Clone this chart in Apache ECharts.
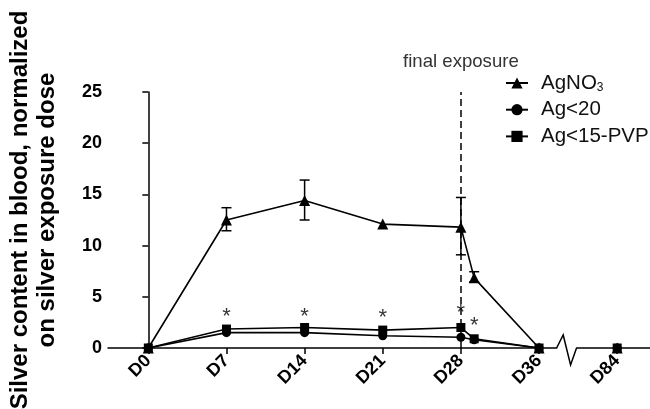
<!DOCTYPE html>
<html><head><meta charset="utf-8">
<script src="https://cdn.jsdelivr.net/npm/echarts@6/dist/echarts.min.js"></script>
<style>html,body{margin:0;padding:0;background:#fff}#c{width:650px;height:409px}</style>
</head><body><div id="c"></div>
<script>
// ---- data ----
const tickLabels = ['D0','D7','D14','D21','D28','D36','D84'];
const tickPos = [0,1,2,3,4,5,6];
const xPos = [0,1,2,3,4,4.17,5];          // sampling points (4.17 = shortly after D28)
const seriesNames = ['AgNO3','Ag<20','Ag<15-PVP'];
const agno3 = [0,12.5,14.4,12.1,11.8,6.85,0];
const agno3Low = [null,11.45,12.5,null,9.1,6.45,null];
const agno3High = [null,13.7,16.4,null,14.7,7.45,null];
const ag20 = [0,1.5,1.5,1.2,1.05,0.8,0];
const agPVP = [0,1.85,2.0,1.75,2.0,0.9,0];
const d84X = 6, d84Y = 0;
const starX = [1,2,3,4,4.17];
const starY = [3.0,3.0,2.9,3.45,2.15];
const finalExposureX = 4;
const axisBreak = [5.225, 5.48];

const FONT = "'Liberation Sans', Arial, sans-serif";
function pts(vals){
  const d = xPos.map((x,i)=>[x, vals[i]]);
  d.push([5.5,'-']);
  d.push([d84X, d84Y]);
  return d;
}
const errData = xPos.map((x,i)=>[x, agno3Low[i], agno3High[i]]).filter(r=>r[1]!==null);

const chart = echarts.init(document.getElementById('c'), null, {renderer:'canvas'});
const lineStyle = {color:'#000', width:1.6};
chart.setOption({
  animation:false,
  backgroundColor:'#fff',
  grid:{left:108, right:0, top:92, bottom:61, containLabel:false, outerBoundsMode:'none'},
  legend:{
    data:seriesNames, orient:'vertical', left:505, top:72, padding:0, itemWidth:22, itemHeight:14, itemGap:4.7,
    selectedMode:false,
    formatter: n => n==='AgNO3' ? '{a|AgNO}{s|3}' : n,
    textStyle:{fontFamily:FONT, fontSize:20.5, color:'#111', lineHeight:22, padding:[0,0,0,8],
      rich:{a:{fontFamily:FONT,fontSize:20.5,color:'#111'}, s:{fontFamily:FONT,fontSize:12,color:'#111',verticalAlign:'bottom',padding:[10,0,0,0]}}}
  },
  xAxis:{
    type:'value', min:-0.516, max:6.42,
    axisLine:{lineStyle:{color:'#000', width:1.5}},
    axisTick:{show:true, customValues:tickPos, length:6, lineStyle:{color:'#000', width:1.5}},
    axisLabel:{customValues:tickPos, rotate:45, margin:10, formatter:v=>tickLabels[tickPos.indexOf(v)],
      fontFamily:FONT, fontWeight:'bold', fontSize:18, color:'#000'},
    splitLine:{show:false}
  },
  yAxis:{
    type:'value', min:0, max:25, interval:5,
    name:'Silver content in blood, normalized\non silver exposure dose',
    nameLocation:'middle', nameGap:47,
    nameTextStyle:{fontFamily:FONT, fontWeight:'bold', fontSize:24, lineHeight:27, color:'#000', padding:[0,0,0,20]},
    axisLine:{show:true, lineStyle:{color:'#000', width:1.5}},
    axisTick:{show:true, length:6, lineStyle:{color:'#000', width:1.5}},
    axisLabel:{fontFamily:FONT, fontWeight:'bold', fontSize:18, color:'#000', margin:6},
    splitLine:{show:false}
  },
  series:[
    {
      type:'custom', name:'errbar', silent:true, z:1, clip:false,
      data: errData,
      encode:{x:0, y:[1,2]},
      renderItem:(params, api)=>{
        const x = api.value(0);
        const lo = api.coord([x, api.value(1)]);
        const hi = api.coord([x, api.value(2)]);
        const w = 5;
        const st = {stroke:'#000', lineWidth:1.5};
        return {type:'group', children:[
          {type:'line', shape:{x1:lo[0],y1:lo[1],x2:hi[0],y2:hi[1]}, style:st},
          {type:'line', shape:{x1:lo[0]-w,y1:lo[1],x2:lo[0]+w,y2:lo[1]}, style:st},
          {type:'line', shape:{x1:hi[0]-w,y1:hi[1],x2:hi[0]+w,y2:hi[1]}, style:st}
        ]};
      }
    },
    {
      type:'line', name:seriesNames[0], data:pts(agno3), symbol:'triangle', symbolSize:11,
      lineStyle, itemStyle:{color:'#000'}, z:3,
      markLine:{silent:true, symbol:'none', lineStyle:{color:'#000', width:1.5, type:[7,4]},
        label:{show:true, position:'end', formatter:'final exposure', distance:21,
          fontFamily:FONT, fontSize:18.6, color:'#333'},
        data:[{xAxis:finalExposureX}]}
    },
    {
      type:'line', name:seriesNames[1], data:pts(ag20), symbol:'circle', symbolSize:9,
      lineStyle, itemStyle:{color:'#000'}, z:4
    },
    {
      type:'line', name:seriesNames[2], data:pts(agPVP), symbol:'rect', symbolSize:9,
      lineStyle, itemStyle:{color:'#000'}, z:5
    },
    {
      type:'scatter', name:'stars', silent:true, symbolSize:1, itemStyle:{color:'rgba(0,0,0,0)'}, z:6,
      data: starX.map((x,i)=>[x, starY[i]]),
      label:{show:true, position:'inside', formatter:'*', fontFamily:FONT, fontSize:22, color:'#000'}
    },
    {
      type:'custom', name:'break', silent:true, z:7, clip:false,
      data:[axisBreak],
      encode:{x:[0,1]},
      renderItem:(params, api)=>{
        const a = api.coord([api.value(0), 0]);
        const b = api.coord([api.value(1), 0]);
        const dx = b[0]-a[0];
        return {type:'group', children:[
          {type:'rect', shape:{x:a[0]+0.5, y:a[1]-2, width:dx-1, height:4}, style:{fill:'#fff'}},
          {type:'polyline', shape:{points:[[a[0],a[1]],[a[0]+dx*0.33,a[1]-13],[a[0]+dx*0.7,a[1]+17],[b[0],b[1]]]},
            style:{stroke:'#000', lineWidth:1.5, fill:null}}
        ]};
      }
    }
  ]
});
</script></body></html>
